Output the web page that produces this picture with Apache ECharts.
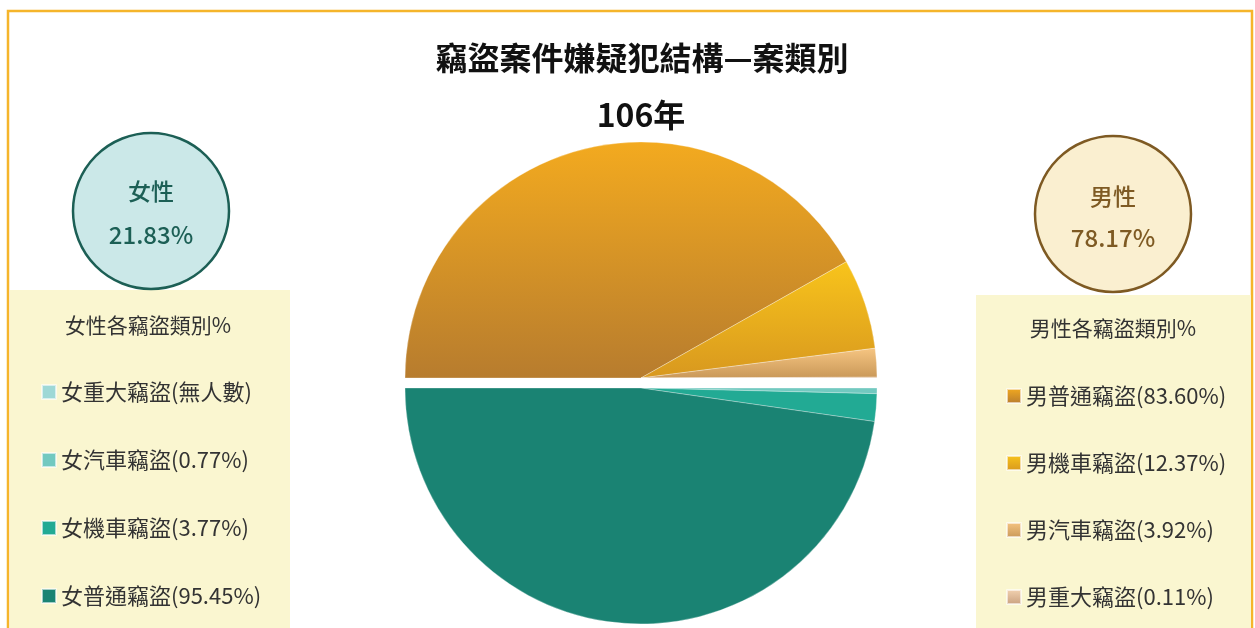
<!DOCTYPE html>
<html>
<head>
<meta charset="utf-8">
<script src="https://cdn.jsdelivr.net/npm/echarts@6/dist/echarts.min.js"></script>
<style>
  html, body { margin: 0; padding: 0; background: #fff; }
  #main { width: 1255px; height: 628px; }
</style>
</head>
<body>
<div id="main"></div>
<script>
// 男性 (上半圓) / 女性 (下半圓) 各竊盜類別 %
var maleNames = ['男普通竊盜', '男機車竊盜', '男汽車竊盜', '男重大竊盜'];
var maleValues = [83.60, 12.37, 3.92, 0.11];
var femaleNames = ['女重大竊盜', '女汽車竊盜', '女機車竊盜', '女普通竊盜'];
var femaleValues = [0, 0.77, 3.77, 95.45];
var genderShare = { male: 78.17, female: 21.83 };

var maleColors = [
  ['#F3AA1F', '#B77C2E'],
  ['#F8C41B', '#D8981F'],
  ['#F6C582', '#C99858'],
  ['#F3D3B2', '#C9A07E']
];
var femaleColors = ['#9ED8D6', '#72C9C0', '#22AA94', '#1A8373'];

function grad(c) {
  return {
    type: 'linear', x: 0, y: 0, x2: 0, y2: 1,
    colorStops: [{ offset: 0, color: c[0] }, { offset: 1, color: c[1] }]
  };
}

var maleData = [];
for (var i = 0; i < maleNames.length; i++) {
  maleData.push({ name: maleNames[i], value: maleValues[i], itemStyle: { color: grad(maleColors[i]) } });
}
var femaleData = [];
for (var j = 0; j < femaleNames.length; j++) {
  femaleData.push({ name: femaleNames[j], value: femaleValues[j], itemStyle: { color: femaleColors[j] } });
}

function legendText(name) {
  var k = maleNames.indexOf(name);
  if (k >= 0) return name + '(' + maleValues[k].toFixed(2) + '%)';
  k = femaleNames.indexOf(name);
  if (femaleValues[k] === 0) return name + '(無人數)';
  return name + '(' + femaleValues[k].toFixed(2) + '%)';
}

var FONT = '"Noto Sans CJK TC", "Noto Sans", sans-serif';
var chart = echarts.init(document.getElementById('main'));

var option = {
  backgroundColor: '#fff',
  animation: false,
  textStyle: { fontFamily: FONT },
  graphic: [
    // outer frame
    { type: 'rect', shape: { x: 8, y: 11, width: 1244, height: 640 },
      style: { fill: 'none', stroke: '#F5B52B', lineWidth: 2.5 }, z: 0 },
    // legend boxes
    { type: 'rect', shape: { x: 10, y: 290, width: 280, height: 345 },
      style: { fill: '#FAF6D0' }, z: 0 },
    { type: 'rect', shape: { x: 976, y: 295, width: 275, height: 345 },
      style: { fill: '#FAF6D0' }, z: 0 },
    // gender circles
    { type: 'circle', shape: { cx: 151, cy: 211, r: 78 },
      style: { fill: '#CBE8E8', stroke: '#1C5F55', lineWidth: 2.5 }, z: 1 },
    { type: 'circle', shape: { cx: 1113, cy: 214, r: 78 },
      style: { fill: '#FAEFD0', stroke: '#7E5A23', lineWidth: 2.5 }, z: 1 },
    { type: 'text', x: 151, y: 191, z: 2,
      style: { text: '女性', font: '500 23px ' + FONT, fill: '#1C5F55', align: 'center', verticalAlign: 'middle' } },
    { type: 'text', x: 151, y: 235, z: 2,
      style: { text: genderShare.female.toFixed(2) + '%', font: '500 24px ' + FONT, fill: '#1C5F55', align: 'center', verticalAlign: 'middle' } },
    { type: 'text', x: 1113, y: 196, z: 2,
      style: { text: '男性', font: '500 23px ' + FONT, fill: '#7E5A23', align: 'center', verticalAlign: 'middle' } },
    { type: 'text', x: 1113, y: 238, z: 2,
      style: { text: genderShare.male.toFixed(2) + '%', font: '500 24px ' + FONT, fill: '#7E5A23', align: 'center', verticalAlign: 'middle' } },
    // legend headers
    { type: 'text', x: 148, y: 325, z: 2,
      style: { text: '女性各竊盜類別%', font: '21px ' + FONT, fill: '#333', align: 'center', verticalAlign: 'middle' } },
    { type: 'text', x: 1113, y: 328, z: 2,
      style: { text: '男性各竊盜類別%', font: '21px ' + FONT, fill: '#333', align: 'center', verticalAlign: 'middle' } },
    // titles
    { type: 'text', x: 642, y: 58, z: 2,
      style: { text: '竊盜案件嫌疑犯結構—案類別', font: 'bold 32px ' + FONT, fill: '#111', align: 'center', verticalAlign: 'middle' } },
    { type: 'text', x: 641, y: 115, z: 2,
      style: { text: '106年', font: 'bold 32px ' + FONT, fill: '#111', align: 'center', verticalAlign: 'middle' } }
  ],
  legend: [
    {
      data: femaleNames, left: 41, top: 381, orient: 'vertical', padding: 0,
      icon: 'rect', itemWidth: 14, itemHeight: 14, itemGap: 46,
      selectedMode: false, formatter: legendText,
      textStyle: { fontSize: 22, color: '#333', lineHeight: 22 }
    },
    {
      data: maleNames, left: 1006, top: 385, orient: 'vertical', padding: 0,
      icon: 'rect', itemWidth: 14, itemHeight: 14, itemGap: 45,
      selectedMode: false, formatter: legendText,
      textStyle: { fontSize: 22, color: '#333', lineHeight: 22 }
    }
  ],
  series: [
    {
      name: '男性', type: 'pie', center: [641, 378], radius: 236,
      startAngle: 180, endAngle: 0, clockwise: true,
      label: { show: false }, labelLine: { show: false },
      itemStyle: { borderColor: 'rgba(255,255,255,0.6)', borderWidth: 0.5 },
      data: maleData
    },
    {
      name: '女性', type: 'pie', center: [641, 388], radius: 236,
      startAngle: 0, endAngle: -180, clockwise: true,
      label: { show: false }, labelLine: { show: false },
      itemStyle: { borderColor: 'rgba(255,255,255,0.6)', borderWidth: 0.5 },
      data: femaleData
    }
  ]
};

chart.setOption(option);
</script>
</body>
</html>
